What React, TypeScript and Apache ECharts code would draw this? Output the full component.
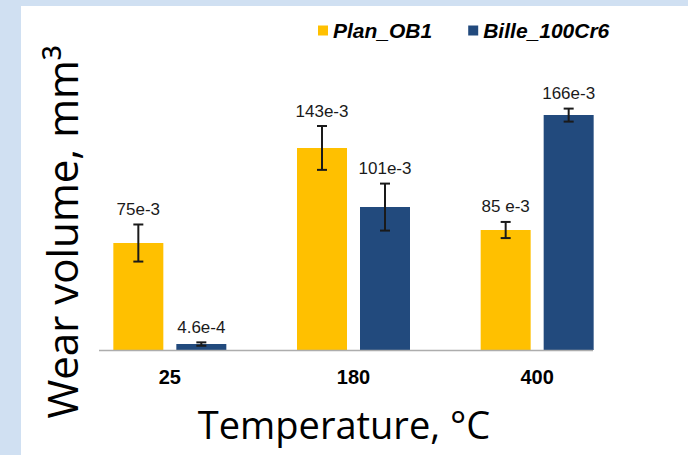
import React, { useEffect, useRef } from "react";
import * as echarts from "echarts";

const categories = ["25", "180", "400"];
const seriesNames = ["Plan_OB1", "Bille_100Cr6"];
const planValues = [0.0756, 0.1428, 0.0848];
const billeValues = [0.0042, 0.101, 0.166];
const planErrors = [0.0131, 0.0155, 0.0057];
const billeErrors = [0.0012, 0.0166, 0.0046];
const planLabels = ["75e-3", "143e-3", "85 e-3"];
const billeLabels = ["4.6e-4", "101e-3", "166e-3"];

const PLAN_COLOR = "#FFC000";
const BILLE_COLOR = "#224A7D";
const BAR_W = 50;
const BAR_GAP_PX = 13;
const OFFSET = (BAR_W + BAR_GAP_PX) / 2;

export default function App() {
  const ref = useRef<HTMLDivElement>(null);
  useEffect(() => {
    document.body.style.margin = "0";
    const chart = echarts.init(ref.current!, null, { renderer: "svg" });
    const errData: any[] = [];
    const labels: string[] = [];
    categories.forEach((_, i) => {
      errData.push([i, planValues[i], planErrors[i], 0]);
      labels.push(planLabels[i]);
    });
    categories.forEach((_, i) => {
      errData.push([i, billeValues[i], billeErrors[i], 1]);
      labels.push(billeLabels[i]);
    });
    chart.setOption({
      animation: false,
      backgroundColor: "#D0E0F2",
      graphic: [
        {
          type: "rect",
          z: -10,
          shape: { x: 21, y: 6, width: 700, height: 460 },
          style: { fill: "#FFFFFF" },
          silent: true,
        },
        {
          type: "line",
          z: 10,
          shape: { x1: 99, y1: 350.5, x2: 593, y2: 350.5 },
          style: { stroke: "#ADADAD", lineWidth: 1.5 },
        },
        {
          type: "text",
          x: 344,
          y: 424,
          style: {
            text: "Temperature, °C",
            fontFamily: "Open Sans",
            fontSize: 38,
            fill: "#000",
            align: "center",
            verticalAlign: "middle",
          },
        },
        {
          type: "text",
          x: 61,
          y: 232,
          rotation: Math.PI / 2,
          style: {
            text: "Wear volume, mm³",
            fontFamily: "Open Sans",
            fontSize: 42,
            fill: "#000",
            align: "center",
            verticalAlign: "middle",
          },
        },
      ],
      legend: {
        left: 313,
        top: 15,
        icon: "rect",
        itemWidth: 10,
        itemHeight: 10,
        itemGap: 36,
        data: seriesNames,
        textStyle: {
          fontFamily: "Liberation Sans",
          fontWeight: "bold",
          fontStyle: "italic",
          fontSize: 21,
          color: "#000",
        },
      },
      grid: { left: 78, right: 59, top: 67, bottom: 105 },
      xAxis: {
        type: "category",
        data: categories,
        axisLine: { show: false },
        axisTick: { show: false },
        axisLabel: {
          margin: 17,
          fontFamily: "Liberation Sans",
          fontWeight: "bold",
          fontSize: 20,
          color: "#000",
        },
      },
      yAxis: {
        type: "value",
        min: 0,
        max: 0.2,
        show: false,
        splitLine: { show: false },
      },
      series: [
        {
          name: seriesNames[0],
          type: "bar",
          data: planValues,
          barWidth: BAR_W,
          barGap: (BAR_GAP_PX / BAR_W) * 100 + "%",
          itemStyle: { color: PLAN_COLOR },
        },
        {
          name: seriesNames[1],
          type: "bar",
          data: billeValues,
          barWidth: BAR_W,
          itemStyle: { color: BILLE_COLOR },
        },
        {
          type: "custom",
          z: 5,
          data: errData,
          renderItem: (params: any, api: any) => {
            const i = api.value(0);
            const v = api.value(1);
            const e = api.value(2);
            const s = api.value(3);
            const base = api.coord([i, v]);
            const cx = base[0] + (s === 0 ? -OFFSET : OFFSET);
            const yTop = api.coord([i, v + e])[1];
            const yBot = api.coord([i, v - e])[1];
            const half = 5;
            const st = { stroke: "#1A1A1A", lineWidth: 2 };
            return {
              type: "group",
              children: [
                { type: "line", shape: { x1: cx, y1: yTop, x2: cx, y2: yBot }, style: st },
                { type: "line", shape: { x1: cx - half, y1: yTop, x2: cx + half, y2: yTop }, style: st },
                { type: "line", shape: { x1: cx - half, y1: yBot, x2: cx + half, y2: yBot }, style: st },
                {
                  type: "text",
                  style: {
                    text: labels[params.dataIndex],
                    x: cx,
                    y: yTop - 15,
                    align: "center",
                    verticalAlign: "middle",
                    fontFamily: "Liberation Sans",
                    fontSize: 17,
                    fill: "#1A1A1A",
                  },
                },
              ],
            };
          },
        },
      ],
    });
    return () => chart.dispose();
  }, []);
  return <div ref={ref} style={{ width: 688, height: 455 }} />;
}
